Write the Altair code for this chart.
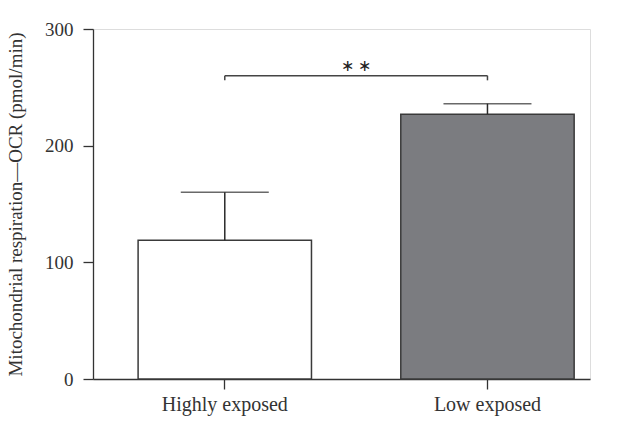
import altair as alt
import pandas as pd

groups = ["Highly exposed", "Low exposed"]
means = [119, 227]
err_top = [160, 236]
fills = ["#ffffff", "#7b7c80"]
bracket_y = 260
bracket_leg = 256
star_y = 268
star_text = "∗ ∗"
y_ticks = [0, 100, 200, 300]
y_title = "Mitochondrial respiration—OCR (pmol/min)"

df = pd.DataFrame({"group": groups, "mean": means, "top": err_top})
bracket = pd.DataFrame({"g1": [groups[0]], "g2": [groups[1]], "y": [bracket_y]})
legs = pd.DataFrame({"group": groups, "y": [bracket_y] * 2, "y2": [bracket_leg] * 2})
stars = pd.DataFrame({"y": [star_y], "t": [star_text]})

FONT = "Liberation Serif"
AX = "#333333"

xscale = alt.Scale(domain=groups, paddingInner=0.34, paddingOuter=0.116, align=0.74)
yscale = alt.Scale(domain=[0, 300], nice=False)

x = alt.X("group:N", scale=xscale, sort=groups,
          axis=alt.Axis(title=None, labelAngle=0, tickSize=10, labelPadding=5,
                        labelFontSize=20, labelFont=FONT, labelColor=AX,
                        domainColor=AX, tickColor=AX, domainWidth=1.3, tickWidth=1.3))
y = alt.Y("mean:Q", scale=yscale,
          axis=alt.Axis(title=y_title, values=y_ticks, grid=False, tickSize=10,
                        labelPadding=10, labelFontSize=19, labelFont=FONT, labelColor=AX,
                        titleFont=FONT, titleFontSize=19, titleFontWeight="normal",
                        titleColor=AX, titlePadding=19,
                        domainColor=AX, tickColor=AX, domainWidth=1.3, tickWidth=1.3))

bars = alt.Chart(df).mark_bar(stroke="#3a3a3a", strokeWidth=1.5).encode(
    x=x, y=y,
    color=alt.Color("group:N", scale=alt.Scale(domain=groups, range=fills), legend=None),
)
err = alt.Chart(df).mark_rule(color="#2a2a2a", strokeWidth=1.5).encode(
    x=alt.X("group:N", scale=xscale, sort=groups),
    y=alt.Y("mean:Q", scale=yscale), y2="top:Q")
caps = alt.Chart(df).mark_tick(color="#2a2a2a", thickness=1.5, size=88, orient="horizontal").encode(
    x=alt.X("group:N", scale=xscale, sort=groups),
    y=alt.Y("top:Q", scale=yscale))
br = alt.Chart(bracket).mark_rule(color="#444444", strokeWidth=1.5).encode(
    x=alt.X("g1:N", scale=xscale, sort=groups), x2="g2:N",
    y=alt.Y("y:Q", scale=yscale))
brl = alt.Chart(legs).mark_rule(color="#444444", strokeWidth=1.5).encode(
    x=alt.X("group:N", scale=xscale, sort=groups),
    y=alt.Y("y:Q", scale=yscale), y2="y2:Q")
st = alt.Chart(stars).mark_text(font=FONT, fontSize=16, color="#222222", baseline="middle",
                                 align="center").encode(
    x=alt.value(263), y=alt.Y("y:Q", scale=yscale), text="t:N")

chart = alt.layer(bars, err, caps, br, brl, st).properties(
    width=497, height=350,
    autosize=alt.AutoSizeParams(type="none"),
    padding={"left": 93, "top": 29, "right": 29, "bottom": 42},
).configure_view(stroke=None).configure(background="white")

chart.save("out.html", embed_options={"renderer": "svg", "actions": False})
